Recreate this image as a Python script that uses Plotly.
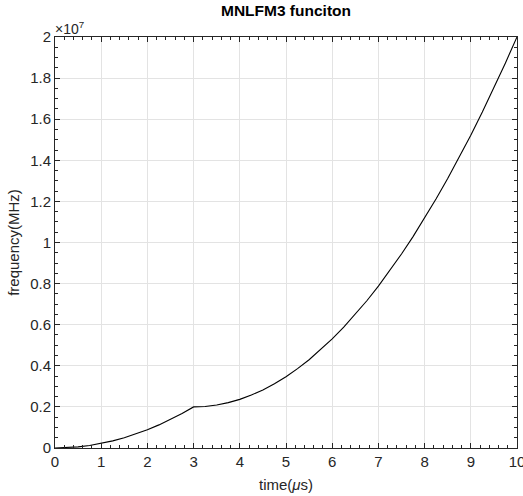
import plotly.graph_objects as go

# time in microseconds
time_us = [0, 0.25, 0.5, 0.75, 1, 1.25, 1.5, 1.75, 2, 2.25, 2.5, 2.75, 3,
           3.25, 3.5, 3.75, 4, 4.25, 4.5, 4.75, 5, 5.25, 5.5, 5.75, 6,
           6.25, 6.5, 6.75, 7, 7.25, 7.5, 7.75, 8, 8.25, 8.5, 8.75, 9,
           9.25, 9.5, 9.75, 10]
# frequency in units of 1e7
freq_e7 = [0, 0.0014, 0.0056, 0.0125, 0.0222, 0.0347, 0.05, 0.068, 0.0889,
           0.1125, 0.1389, 0.168, 0.2,
           0.2023, 0.2092, 0.2207, 0.2367, 0.2574, 0.2827, 0.3125, 0.3469,
           0.386, 0.4296, 0.4778, 0.5306, 0.588, 0.65, 0.7166, 0.7878,
           0.8635, 0.9439, 1.0288, 1.1184, 1.2125, 1.3112, 1.4145, 1.5224,
           1.6349, 1.752, 1.8737, 2.0]

x_range = [0, 10]
y_range = [0, 2]

FONT = "Liberation Sans, Arial, sans-serif"
AX = "#262626"
GRID = "#e3e3e3"

fig = go.Figure()
fig.add_trace(go.Scatter(x=time_us, y=freq_e7, mode="lines",
                         line=dict(color="black", width=1.1), showlegend=False))
# invisible trace to anchor mirrored top/right axes
fig.add_trace(go.Scatter(x=[time_us[0]], y=[freq_e7[0]], xaxis="x2", yaxis="y2",
                         mode="markers", marker=dict(opacity=0), showlegend=False,
                         hoverinfo="skip"))

tick_common = dict(ticks="inside", ticklen=5, tickwidth=1, tickcolor=AX,
                   zeroline=False, tickmode="linear", tick0=0, automargin=False,
                   tickfont=dict(family=FONT, size=15, color=AX),
                   ticklabeloverflow="allow")

fig.update_layout(
    width=523, height=496,
    margin=dict(l=55, r=6, t=37, b=48, autoexpand=False),
    paper_bgcolor="white", plot_bgcolor="white",
    xaxis=dict(range=x_range, dtick=1, showline=True, linecolor=AX, linewidth=1,
               showgrid=True, gridcolor=GRID, gridwidth=1,
               minor=dict(ticks="inside", ticklen=3, tickwidth=1, tickcolor=AX,
                          dtick=0.2, showgrid=False),
               title=dict(text="time(<i>μ</i>s)", font=dict(family=FONT, size=15, color=AX), standoff=10),
               **tick_common),
    yaxis=dict(range=y_range, dtick=0.2, showline=True, linecolor=AX, linewidth=1,
               showgrid=True, gridcolor=GRID, gridwidth=1,
               minor=dict(ticks="inside", ticklen=3, tickwidth=1, tickcolor=AX,
                          dtick=0.05, showgrid=False),
               title=dict(text="frequency(MHz)", font=dict(family=FONT, size=15, color=AX), standoff=6),
               **tick_common),
    xaxis2=dict(overlaying="x", side="top", range=x_range, dtick=1, showline=True,
                linecolor=AX, linewidth=1, showgrid=False, showticklabels=False,
                anchor="y",
                minor=dict(ticks="inside", ticklen=3, tickwidth=1, tickcolor=AX,
                           dtick=0.2, showgrid=False),
                **tick_common),
    yaxis2=dict(overlaying="y", side="right", range=y_range, dtick=0.2, showline=True,
                linecolor=AX, linewidth=1, showgrid=False, showticklabels=False,
                anchor="x",
                minor=dict(ticks="inside", ticklen=3, tickwidth=1, tickcolor=AX,
                           dtick=0.05, showgrid=False),
                **tick_common),
    title=dict(text="<b>MNLFM3 funciton</b>", x=(55 + 517) / 2 / 523, xanchor="center",
               y=1 - 11 / 496, yanchor="middle",
               font=dict(family=FONT, size=15.5, color="black")),
)

fig.add_annotation(x=0, y=1, xref="paper", yref="paper", xanchor="left", yanchor="bottom",
                   text="×10<sup>7</sup>", showarrow=False, xshift=-2, yshift=-2,
                   font=dict(family=FONT, size=14, color=AX))

fig.write_html("out.html")
